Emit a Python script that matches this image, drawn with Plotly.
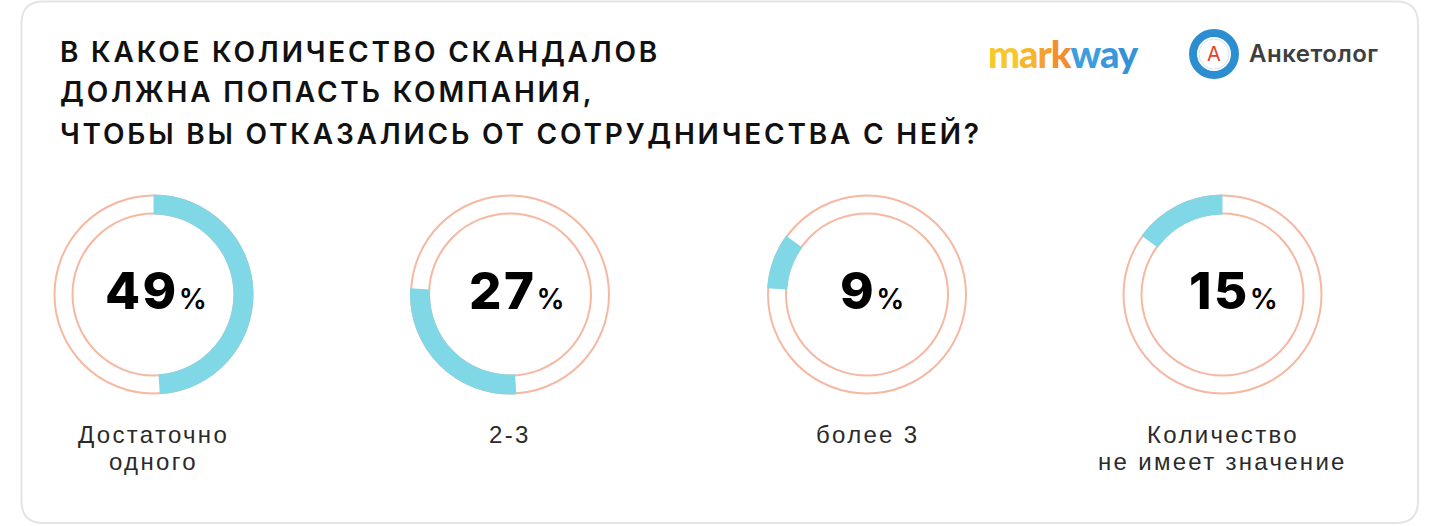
import plotly.graph_objects as go

W, H = 1440, 526

# ---- data ----
title_lines = [
    "В КАКОЕ КОЛИЧЕСТВО СКАНДАЛОВ",
    "ДОЛЖНА ПОПАСТЬ КОМПАНИЯ,",
    "ЧТОБЫ ВЫ ОТКАЗАЛИСЬ ОТ СОТРУДНИЧЕСТВА С НЕЙ?",
]
categories = ["Достаточно<br>одного", "2-3", "более 3", "Количество<br>не имеет значение"]
values = [49, 27, 9, 15]

# ---- style / layout ----
CYAN = "#80D7E6"
SALMON = "#F6B8A2"
FONT = "Inter"
LABEL_FONT = "Liberation Sans"
TEXT_DARK = "#111111"

centers_x = [153.5, 510, 867, 1222.5]
value_dx = [2, 7, 5, 11]
CY = 294.5
R_OUT = 100
R_IN = 80


def px(x):
    return x / W


def py(y):
    return 1 - y / H


fig = go.Figure()
shapes = []
annotations = []

# card border (rounded rectangle)
x0, x1, y0, y1, r = 21.5, 1418, 1.5, 523, 22
path = (
    f"M {px(x0 + r)},{py(y0)} L {px(x1 - r)},{py(y0)} "
    f"Q {px(x1)},{py(y0)} {px(x1)},{py(y0 + r)} "
    f"L {px(x1)},{py(y1 - r)} Q {px(x1)},{py(y1)} {px(x1 - r)},{py(y1)} "
    f"L {px(x0 + r)},{py(y1)} Q {px(x0)},{py(y1)} {px(x0)},{py(y1 - r)} "
    f"L {px(x0)},{py(y0 + r)} Q {px(x0)},{py(y0)} {px(x0 + r)},{py(y0)} Z"
)
shapes.append(dict(type="path", xref="paper", yref="paper", path=path,
                   line=dict(color="#E4E4E4", width=2), layer="below"))

start = 0
for i, (cat, val) in enumerate(zip(categories, values)):
    cx = centers_x[i]
    for rr in (99, 81):
        shapes.append(dict(type="circle", xref="paper", yref="paper",
                           x0=px(cx - rr), x1=px(cx + rr), y0=py(CY + rr), y1=py(CY - rr),
                           line=dict(color=SALMON, width=2), layer="below"))
    fig.add_trace(go.Pie(
        values=[start, val, 100 - start - val],
        labels=["before", cat.replace("<br>", " "), "after"],
        sort=False, direction="clockwise", rotation=0,
        hole=R_IN / R_OUT,
        marker=dict(colors=["rgba(0,0,0,0)", CYAN, "rgba(0,0,0,0)"], line=dict(width=0)),
        textinfo="none", hoverinfo="skip", showlegend=False,
        domain=dict(x=[px(cx - R_OUT), px(cx + R_OUT)], y=[py(CY + R_OUT), py(CY - R_OUT)]),
    ))
    start += val

    # value text
    annotations.append(dict(
        x=px(cx + value_dx[i]), y=py(290.5), xref="paper", yref="paper",
        xanchor="center", yanchor="middle", showarrow=False,
        text=(f"<span style='letter-spacing:2.5px'>{val}</span>"
              f"<span style='font-size:28px;font-weight:600'>%</span>"),
        font=dict(family=FONT, size=51, weight=800, color="#000000"),
    ))
    # category label lines
    for j, line in enumerate(cat.split("<br>")):
        annotations.append(dict(
            x=px(cx), y=py(434 + 27 * j), xref="paper", yref="paper",
            xanchor="center", yanchor="middle", showarrow=False,
            text=f"<span style='letter-spacing:2.3px'>{line}</span>",
            font=dict(family=LABEL_FONT, size=24, weight=400, color="#2A2A2A"),
        ))

# title
for j, line in enumerate(title_lines):
    annotations.append(dict(
        x=px(58), y=py(52 + 40.5 * j), xref="paper", yref="paper",
        xanchor="left", yanchor="middle", showarrow=False,
        text=f"<span style='letter-spacing:2.8px'>{line}</span>",
        font=dict(family=FONT, size=28, weight=600, color=TEXT_DARK),
    ))

# markway logo
mk_colors = ["#F8C72A", "#F7B52B", "#F5A22C", "#F28E2E", "#3D9EDD", "#3A98DA", "#3592D6"]
mk_text = "".join(f"<span style='fill:{c}'>{ch}</span>" for ch, c in zip("markway", mk_colors))
annotations.append(dict(
    x=px(986), y=py(53), xref="paper", yref="paper",
    xanchor="left", yanchor="middle", showarrow=False,
    text=f"<span style='letter-spacing:-1px'>{mk_text}</span>",
    font=dict(family="Lato", size=38, weight=900, color="#F5A22C"),
))

# Анкетолог logo
shapes.append(dict(type="circle", xref="paper", yref="paper",
                   x0=px(1214 - 21), x1=px(1214 + 21), y0=py(54 + 21), y1=py(54 - 21),
                   line=dict(color="#2C8ED0", width=8), fillcolor="white"))
shapes.append(dict(type="circle", xref="paper", yref="paper",
                   x0=px(1214 - 15), x1=px(1214 + 15), y0=py(54 + 15), y1=py(54 - 15),
                   line=dict(color="#CFE6F5", width=1), fillcolor="white"))
annotations.append(dict(
    x=px(1214), y=py(54), xref="paper", yref="paper",
    xanchor="center", yanchor="middle", showarrow=False,
    text="А", font=dict(family=FONT, size=20, weight=400, color="#E5402B"),
))
annotations.append(dict(
    x=px(1247), y=py(53.5), xref="paper", yref="paper",
    xanchor="left", yanchor="middle", showarrow=False,
    text="<span style='letter-spacing:0.5px'>Анкетолог</span>",
    font=dict(family=FONT, size=24, weight=600, color="#3E3E3E"),
))

fig.update_layout(
    width=W, height=H,
    margin=dict(l=0, r=0, t=0, b=0),
    paper_bgcolor="white", plot_bgcolor="white",
    shapes=shapes, annotations=annotations,
    showlegend=False,
)

fig.write_html(
    "out.html",
    config={"displayModeBar": False},
    post_script="document.body.style.margin='0';document.body.style.overflow='hidden';",
)
